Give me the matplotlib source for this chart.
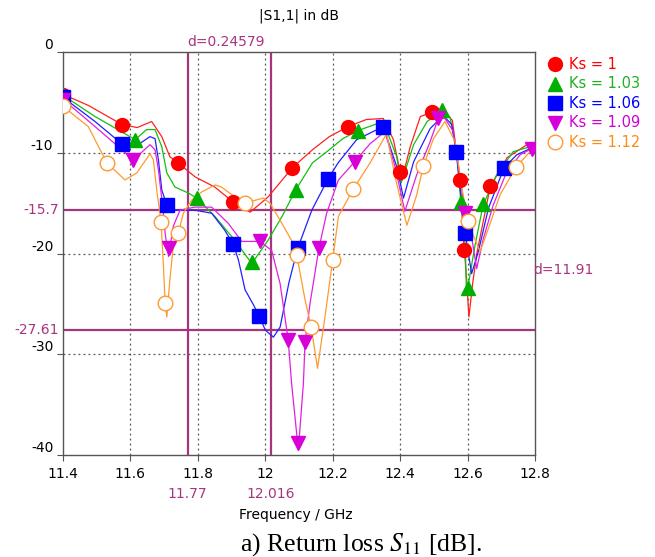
import matplotlib
matplotlib.use("Agg")
import matplotlib.pyplot as plt

plt.rcParams['font.family'] = ['DejaVu Sans']
plt.rcParams['axes.unicode_minus'] = False
plt.rcParams['mathtext.fontset'] = 'stix'

# --- curve data (frequency in GHz, |S11| in dB) ---
f_ks100 = [11.400, 11.475, 11.575, 11.620, 11.663, 11.693, 11.717, 11.741, 11.792, 11.850,
           11.905, 11.955, 12.008, 12.080, 12.140, 12.190, 12.246, 12.300, 12.350, 12.380,
           12.400, 12.405, 12.430, 12.460, 12.495, 12.525, 12.555, 12.578, 12.588, 12.596,
           12.604, 12.615, 12.628, 12.667, 12.717, 12.776, 12.800]
s_ks100 = [-4.2, -5.3, -7.2, -7.5, -6.9, -8.4, -10.4, -11.0, -12.4, -13.4,
           -14.9, -15.9, -14.4, -11.5, -9.7, -8.4, -7.4, -6.7, -6.6, -8.7,
           -11.9, -12.7, -9.4, -6.4, -6.0, -5.6, -6.8, -12.7, -18.7, -22.0,
           -26.3, -23.0, -19.9, -13.4, -10.5, -9.2, -9.1]

f_ks103 = [11.400, 11.495, 11.614, 11.648, 11.673, 11.693, 11.708, 11.732, 11.772, 11.797,
           11.850, 11.910, 11.960, 12.008, 12.050, 12.090, 12.140, 12.190, 12.230, 12.275,
           12.350, 12.390, 12.403, 12.440, 12.480, 12.523, 12.548, 12.568, 12.580, 12.593,
           12.597, 12.622, 12.646, 12.686, 12.735, 12.785, 12.800]
s_ks103 = [-4.3, -6.4, -8.7, -7.7, -7.7, -9.4, -12.0, -13.4, -14.0, -14.5,
           -16.3, -18.7, -21.0, -18.7, -16.3, -13.7, -11.0, -9.7, -8.6, -7.8,
           -6.9, -10.4, -13.0, -9.2, -6.9, -5.8, -6.5, -9.9, -14.9, -19.2,
           -24.1, -19.2, -15.2, -12.2, -9.9, -9.4, -9.3]

f_ks106 = [11.400, 11.495, 11.574, 11.614, 11.658, 11.673, 11.683, 11.693, 11.708, 11.732,
           11.790, 11.841, 11.880, 11.905, 11.920, 11.940, 11.965, 11.982, 12.000, 12.024,
           12.044, 12.070, 12.096, 12.138, 12.186, 12.216, 12.271, 12.350, 12.390, 12.410,
           12.440, 12.489, 12.528, 12.553, 12.566, 12.580, 12.593, 12.612, 12.632, 12.662,
           12.708, 12.746, 12.785, 12.800]
s_ks106 = [-4.5, -6.9, -9.1, -9.4, -8.4, -8.6, -10.7, -13.7, -15.2, -15.7,
           -15.7, -16.0, -17.7, -19.1, -20.6, -23.6, -25.1, -26.2, -27.6, -28.3,
           -27.3, -22.9, -19.5, -15.7, -12.6, -11.0, -8.7, -7.4, -11.4, -14.5,
           -10.9, -7.6, -6.3, -7.2, -9.9, -14.2, -18.0, -22.0, -19.8, -15.5,
           -11.5, -10.2, -9.6, -9.5]

f_ks109 = [11.400, 11.495, 11.609, 11.658, 11.673, 11.683, 11.698, 11.703, 11.713, 11.727,
           11.747, 11.790, 11.841, 11.890, 11.930, 11.984, 12.019, 12.044, 12.068, 12.078,
           12.098, 12.113, 12.118, 12.133, 12.159, 12.182, 12.217, 12.265, 12.311, 12.355,
           12.385, 12.414, 12.449, 12.489, 12.513, 12.533, 12.558, 12.578, 12.593, 12.607,
           12.627, 12.647, 12.676, 12.716, 12.756, 12.790, 12.800]
s_ks109 = [-4.7, -7.4, -10.7, -9.2, -9.7, -11.7, -16.0, -18.0, -20.3, -17.3,
           -15.7, -15.4, -15.4, -17.0, -18.8, -18.8, -19.7, -23.0, -28.6, -32.9,
           -39.5, -32.9, -28.8, -24.9, -19.5, -16.0, -12.7, -10.9, -9.1, -7.9,
           -11.4, -15.8, -12.2, -8.9, -6.6, -6.6, -7.9, -12.5, -16.0, -17.3,
           -21.5, -18.5, -15.2, -11.9, -10.2, -9.6, -9.5]

f_ks112 = [11.400, 11.475, 11.530, 11.584, 11.619, 11.658, 11.668, 11.678, 11.691, 11.698,
           11.703, 11.708, 11.717, 11.727, 11.742, 11.757, 11.782, 11.811, 11.851, 11.870,
           11.910, 11.940, 11.994, 12.014, 12.049, 12.088, 12.093, 12.118, 12.136, 12.155,
           12.177, 12.200, 12.217, 12.261, 12.311, 12.360, 12.385, 12.420, 12.449, 12.469,
           12.499, 12.533, 12.563, 12.583, 12.602, 12.617, 12.637, 12.662, 12.696, 12.744,
           12.785, 12.800]
s_ks112 = [-5.4, -7.4, -11.0, -12.7, -12.0, -10.1, -10.7, -13.7, -16.9, -21.3,
           -24.9, -26.3, -22.6, -19.3, -18.0, -16.0, -14.7, -13.9, -13.2, -13.4,
           -14.4, -15.0, -14.5, -15.0, -17.0, -19.3, -20.1, -24.6, -27.3, -31.4,
           -26.3, -20.6, -16.3, -13.6, -11.0, -8.1, -12.4, -17.2, -14.2, -11.3,
           -8.6, -6.9, -8.9, -13.5, -16.8, -18.2, -19.8, -17.5, -14.2, -11.4,
           -9.9, -9.8]

# --- marker positions ---
mf_ks100 = [11.400, 11.575, 11.741, 11.905, 12.080, 12.246, 12.400, 12.495, 12.578, 12.590, 12.667]
ms_ks100 = [-4.3, -7.2, -11.0, -14.9, -11.5, -7.4, -11.9, -6.0, -12.7, -19.7, -13.3]
mf_ks103 = [11.400, 11.614, 11.797, 11.960, 12.090, 12.275, 12.523, 12.580, 12.600, 12.646]
ms_ks103 = [-4.3, -8.7, -14.5, -20.8, -13.7, -7.8, -5.8, -14.9, -23.4, -15.1]
mf_ks106 = [11.400, 11.574, 11.708, 11.905, 11.982, 12.096, 12.186, 12.350, 12.566, 12.593, 12.708]
ms_ks106 = [-4.5, -9.1, -15.2, -19.1, -26.2, -19.5, -12.6, -7.4, -9.9, -18.0, -11.5]
mf_ks109 = [11.400, 11.609, 11.713, 11.984, 12.068, 12.098, 12.118, 12.159, 12.265, 12.513, 12.593, 12.790]
ms_ks109 = [-4.8, -10.7, -19.5, -18.8, -28.6, -38.8, -28.8, -19.5, -10.9, -6.6, -16.0, -9.6]
mf_ks112 = [11.400, 11.530, 11.691, 11.703, 11.742, 11.940, 12.093, 12.136, 12.200, 12.261, 12.469, 12.602, 12.744]
ms_ks112 = [-5.4, -11.0, -16.9, -24.9, -18.0, -15.0, -20.1, -27.3, -20.6, -13.6, -11.3, -16.8, -11.4]

labels = ['Ks = 1', 'Ks = 1.03', 'Ks = 1.06', 'Ks = 1.09', 'Ks = 1.12']
line_colors = ['#FF2020', '#10C010', '#2020FF', '#E020E0', '#FF9A30']
marker_colors = ['#FF0000', '#00B000', '#0000FF', '#D800D8', '#FF9933']
text_colors = ['#FF0000', '#22B022', '#0000FF', '#D000D0', '#FF8C1A']
markers = ['o', '^', 's', 'v', 'o']
msizes = [10, 10.5, 9.5, 10.5, 10.5]

x_ticks = [11.4, 11.6, 11.8, 12.0, 12.2, 12.4, 12.6, 12.8]
x_ticklabels = ['11.4', '11.6', '11.8', '12', '12.2', '12.4', '12.6', '12.8']
y_ticks = [0, -10, -20, -30, -40]
y_ticklabels = ['0', '-10', '-20', '-30', '-40']

marker_x = [11.77, 12.016]
marker_y = [-15.7, -27.61]
mk_color = '#A8347E'

curves = [(f_ks100, s_ks100), (f_ks103, s_ks103), (f_ks106, s_ks106),
          (f_ks109, s_ks109), (f_ks112, s_ks112)]
points = [(mf_ks100, ms_ks100), (mf_ks103, ms_ks103), (mf_ks106, ms_ks106),
          (mf_ks109, ms_ks109), (mf_ks112, ms_ks112)]

fig = plt.figure(figsize=(6.55, 5.57), dpi=100)
ax = fig.add_axes([63 / 655, 102 / 557, 472 / 655, 403 / 557])

# grid
for xv in x_ticks[1:-1]:
    ax.axvline(xv, color='#555555', lw=0.9, ls=(0, (1.5, 2.5)), zorder=1)
for yv in y_ticks[1:-1]:
    ax.axhline(yv, color='#555555', lw=0.9, ls=(0, (1.5, 2.5)), zorder=1)

# markers (cursor lines)
for xv in marker_x:
    ax.axvline(xv, color=mk_color, lw=1.6, zorder=2)
for yv in marker_y:
    ax.axhline(yv, color=mk_color, lw=1.6, zorder=2)

# curves
for i, (f, s) in enumerate(curves):
    ax.plot(f, s, color=line_colors[i], lw=0.9, zorder=3)
for i, (f, s) in enumerate(points):
    if i == 4:
        ax.plot(f, s, ls='none', marker='o', ms=msizes[i], mfc='white',
                mec=marker_colors[i], mew=1.0, zorder=4)
    else:
        ax.plot(f, s, ls='none', marker=markers[i], ms=msizes[i],
                color=marker_colors[i], mec=marker_colors[i], zorder=4)

ax.set_xlim(11.4, 12.8)
ax.set_ylim(-40, 0)
ax.set_xticks(x_ticks)
ax.set_xticklabels(x_ticklabels)
ax.set_yticks(y_ticks)
ax.set_yticklabels(y_ticklabels)
ax.tick_params(axis='x', direction='out', length=4, width=0.8, pad=5,
               labelsize=10, color='#555555')
ax.tick_params(axis='y', direction='out', length=4, width=0.8, pad=3,
               labelsize=10, color='#555555')
for lbl in ax.get_yticklabels():
    lbl.set_va('bottom')
for sp in ax.spines.values():
    sp.set_color('#555555')
    sp.set_linewidth(1.0)

# cursor labels
ax.annotate('d=0.24579', xy=(marker_x[0], 0), xytext=(0, 2), textcoords='offset points',
            ha='left', va='bottom', color=mk_color, fontsize=10, annotation_clip=False)
for xv, txt in zip(marker_x, ['11.77', '12.016']):
    ax.annotate(txt, xy=(xv, -40), xytext=(0, -28), textcoords='offset points',
                ha='center', va='center', color=mk_color, fontsize=10, annotation_clip=False)
for yv, txt in zip(marker_y, ['-15.7', '-27.61']):
    ax.annotate(txt, xy=(11.4, yv), xytext=(-3, 0), textcoords='offset points',
                ha='right', va='center', color=mk_color, fontsize=10, annotation_clip=False)
ax.annotate('d=11.91', xy=(12.8, (marker_y[0] + marker_y[1]) / 2), xytext=(-1, 0),
            textcoords='offset points', ha='left', va='center', color=mk_color,
            fontsize=10, annotation_clip=False)

# legend, drawn by hand to the right of the plot
for i, lab in enumerate(labels):
    yy = 0.970 - i * 0.0484
    if i == 4:
        ax.plot([1.0424], [yy], transform=ax.transAxes, clip_on=False, ls='none',
                marker='o', ms=msizes[i], mfc='white', mec=marker_colors[i], mew=1.0)
    else:
        ax.plot([1.0424], [yy], transform=ax.transAxes, clip_on=False, ls='none',
                marker=markers[i], ms=msizes[i], color=marker_colors[i])
    ax.text(1.072, yy, lab, transform=ax.transAxes, ha='left', va='center',
            color=text_colors[i], fontsize=10.5)

fig.text(299 / 655, 1 - 16 / 557, '|S1,1| in dB', ha='center', va='center', fontsize=10)
fig.text(296 / 655, 1 - 515 / 557, 'Frequency / GHz', ha='center', va='center', fontsize=10)
fig.text(361 / 655, 1 - 545 / 557, 'a) Return loss $S_{11}$ [dB].', ha='center', va='center',
         fontsize=18.5, family='Liberation Serif')

fig.savefig('out.png', dpi=100)
